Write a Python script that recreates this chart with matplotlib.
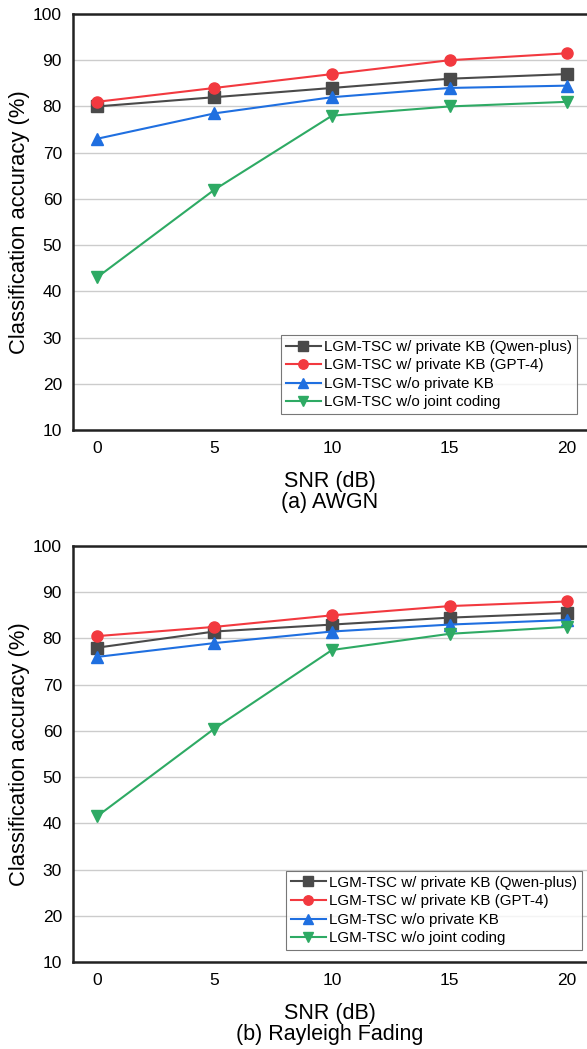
import matplotlib
matplotlib.use("Agg")
import matplotlib.pyplot as plt

plt.rcParams['font.family'] = ['Liberation Sans', 'DejaVu Sans']

snr = [0, 5, 10, 15, 20]
labels = ["LGM-TSC w/ private KB (Qwen-plus)", "LGM-TSC w/ private KB (GPT-4)",
          "LGM-TSC w/o private KB", "LGM-TSC w/o joint coding"]

awgn_qwen = [80, 82, 84, 86, 87]
awgn_gpt4 = [81, 84, 87, 90, 91.5]
awgn_nokb = [73, 78.5, 82, 84, 84.5]
awgn_nojc = [43, 62, 78, 80, 81]

ray_qwen = [78, 81.5, 83, 84.5, 85.5]
ray_gpt4 = [80.5, 82.5, 85, 87, 88]
ray_nokb = [76, 79, 81.5, 83, 84]
ray_nojc = [41.5, 60.5, 77.5, 81, 82.5]

yticks = [10, 20, 30, 40, 50, 60, 70, 80, 90, 100]
captions = ["(a) AWGN", "(b) Rayleigh Fading"]

colors = ["#4a4a4a", "#f2393f", "#1f6fe0", "#2eaa64"]
markers = ["s", "o", "^", "v"]

fig = plt.figure(figsize=(5.87, 10.49), dpi=100)
W, H = 587, 1049
def pos(l, t, r, b):
    return [l / W, 1 - b / H, (r - l) / W, (b - t) / H]

axes = [fig.add_axes(pos(73, 14, 587, 430)), fig.add_axes(pos(73, 546, 587, 962))]
datasets = [[awgn_qwen, awgn_gpt4, awgn_nokb, awgn_nojc],
            [ray_qwen, ray_gpt4, ray_nokb, ray_nojc]]
legend_anchor = [(0.9805, 0.0385), (0.990, 0.029)]

for ax, data, cap, anc in zip(axes, datasets, captions, legend_anchor):
    for ys, c, m, lab in zip(data, colors, markers, labels):
        ax.plot(snr, ys, color=c, marker=m, markersize=8, linewidth=1.5, label=lab, clip_on=False, zorder=3)
    ax.set_xlim(-1.02, 20.85)
    ax.set_ylim(10, 100)
    ax.set_yticks(yticks)
    ax.set_xticks(snr)
    ax.grid(axis='y', color='#cccccc', linewidth=1.0)
    ax.set_axisbelow(True)
    ax.spines['right'].set_visible(False)
    for s in ['top', 'left', 'bottom']:
        ax.spines[s].set_linewidth(1.8)
        ax.spines[s].set_color('#222222')
    ax.tick_params(length=0, labelsize=12.5, pad=8)
    ax.set_ylabel("Classification accuracy (%)", fontsize=15.8, labelpad=2)
    ax.set_xlabel("SNR (dB)\n" + cap, fontsize=15.5, labelpad=11, linespacing=0.95)
    leg = ax.legend(loc='lower right', bbox_to_anchor=anc, borderaxespad=0.0,
                    fontsize=10.9, frameon=True, fancybox=False,
                    edgecolor='#555555', borderpad=0.3, labelspacing=0.3,
                    handlelength=2.3, handletextpad=0.25, markerscale=0.85)
    leg.get_frame().set_linewidth(0.8)

fig.savefig("out.png", dpi=100)
